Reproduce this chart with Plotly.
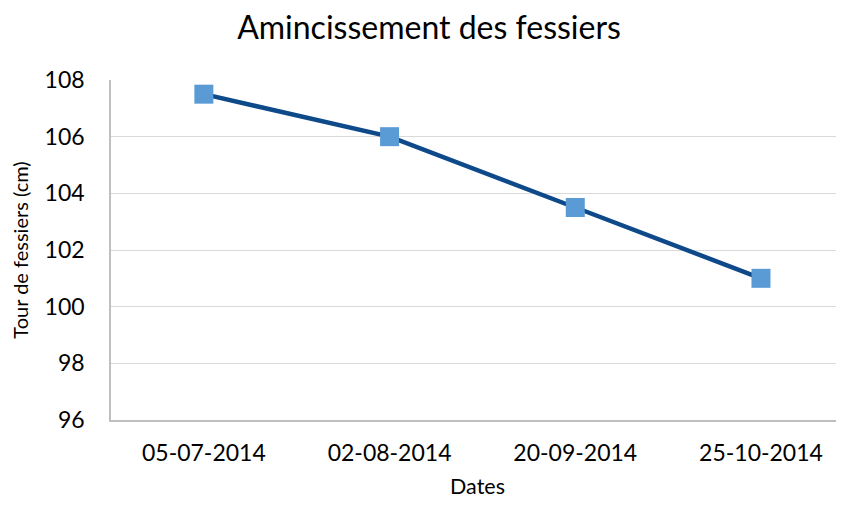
import plotly.graph_objects as go

dates = ["05-07-2014", "02-08-2014", "20-09-2014", "25-10-2014"]
tour_cm = [107.5, 106.0, 103.5, 101.0]
y_ticks = [96, 98, 100, 102, 104, 106, 108]

FONT = "Lato"
OFF = 8  # page body margin offset
W, H = 844 - OFF, 506 - OFF

fig = go.Figure()
fig.add_trace(go.Scatter(
    x=dates, y=tour_cm, mode="lines+markers",
    line=dict(color="#0E4A8A", width=4.5),
    marker=dict(symbol="square", size=19, color="#5B9BD5",
                line=dict(width=0)),
    showlegend=False, hoverinfo="x+y",
))

fig.update_layout(
    width=W, height=H,
    margin=dict(l=111 - OFF, r=0, t=80 - OFF, b=H - (420 - OFF)),
    paper_bgcolor="white", plot_bgcolor="white",
    font=dict(family=FONT, color="#000000"),
    title=dict(text="Amincissement des fessiers", x=(429 - OFF) / W,
               xanchor="center", y=1 - (28 - OFF) / H, yanchor="middle",
               font=dict(family=FONT, size=32, color="#000000")),
)
fig.update_xaxes(
    type="category", range=[-0.5, 3.447],
    showline=True, linecolor="#BFBFBF", linewidth=1.5,
    showgrid=False, ticks="", ticklabelstandoff=12,
    tickfont=dict(family=FONT, size=23, color="#000000"),
    title=dict(text="Dates", font=dict(family=FONT, size=21.5, color="#000000"),
               standoff=14),
)
fig.update_yaxes(
    range=[96, 108], tickvals=y_ticks, ticktext=[str(v) for v in y_ticks],
    showline=True, linecolor="#BFBFBF", linewidth=1.5,
    showgrid=True, gridcolor="#D9D9D9", gridwidth=1.2,
    zeroline=False, ticks="", ticklabelstandoff=20,
    tickfont=dict(family=FONT, size=23, color="#000000"),
    title=dict(text="Tour de fessiers (cm)",
               font=dict(family=FONT, size=20, color="#000000"), standoff=14),
)

fig.write_html("out.html")
